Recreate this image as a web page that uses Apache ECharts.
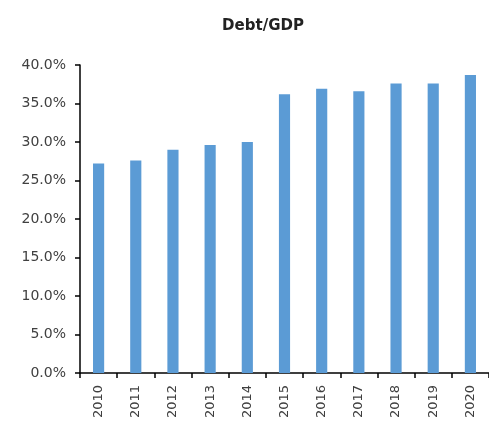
<!DOCTYPE html>
<html style="height: 100%">
<head>
    <meta charset="utf-8">
    <script src="https://cdn.jsdelivr.net/npm/echarts@6/dist/echarts.min.js"></script>
    <title>Debt/GDP</title>
</head>
<body style="height: 100%; margin: 0">
<div id="container" style="width: 489px; height: 425px"></div>
<script type="text/javascript">

    let years = ['2010', '2011', '2012', '2013', '2014', '2015', '2016', '2017', '2018', '2019', '2020']
    let debtToGdp = [0.272, 0.276, 0.290, 0.296, 0.300, 0.362, 0.369, 0.366, 0.376, 0.376, 0.387]

    let font = 'DejaVu Sans'
    let dom = document.getElementById("container");
    let chart = echarts.init(dom);
    chart.setOption({
        animation: false,
        title: {
            text: 'Debt/GDP',
            left: 258,
            top: 14,
            textAlign: 'center',
            textStyle: {fontFamily: font, fontSize: 15, fontWeight: 'bold', color: '#222'}
        },
        grid: {left: 80, right: -6, top: 65, bottom: 52, containLabel: false},
        xAxis: {
            type: 'category',
            data: years,
            axisLine: {lineStyle: {color: '#000', width: 1.5}},
            axisTick: {show: true, length: 5, lineStyle: {color: '#000', width: 1.5}},
            axisLabel: {rotate: 90, margin: 12, fontFamily: font, fontSize: 13, color: '#404040'}
        },
        yAxis: {
            type: 'value',
            min: 0,
            max: 0.4,
            interval: 0.05,
            splitLine: {show: false},
            axisLine: {show: true, lineStyle: {color: '#000', width: 1.5}},
            axisTick: {show: true, length: 5, lineStyle: {color: '#000', width: 1.5}},
            axisLabel: {
                margin: 14,
                fontFamily: font,
                fontSize: 14,
                color: '#404040',
                formatter: v => (v * 100).toFixed(1) + '%'
            }
        },
        series: [{
            type: 'bar',
            data: debtToGdp,
            barWidth: '30%',
            itemStyle: {color: '#5B9BD5'}
        }]
    })

</script>
</body>
</html>
